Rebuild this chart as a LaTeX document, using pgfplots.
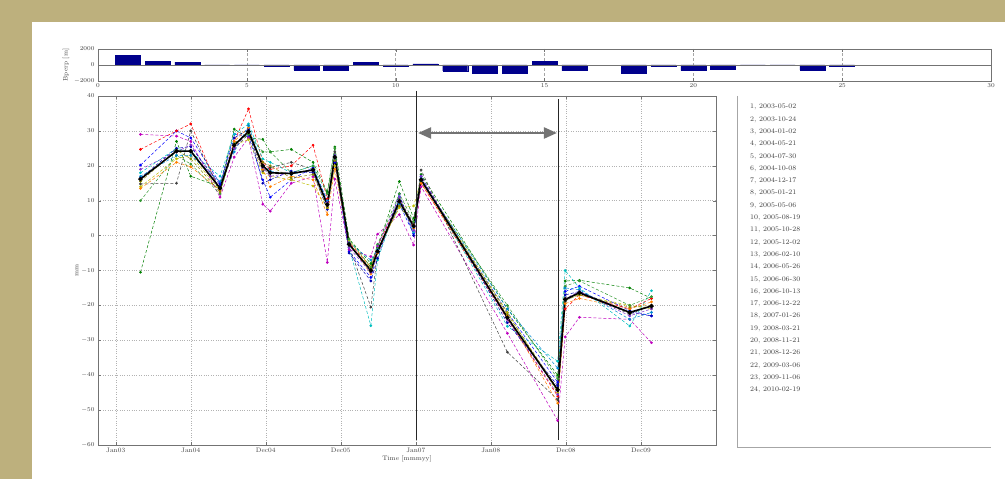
\documentclass[border=0pt]{standalone}
\usepackage{pgfplots}
\usepackage{pgfplotstable}
\pgfplotsset{compat=1.18}
\usetikzlibrary{arrows.meta}

\definecolor{slidebg}{RGB}{189,176,125}
\definecolor{navybar}{RGB}{0,0,140}
\definecolor{mb}{rgb}{0,0,1}
\definecolor{mg}{rgb}{0,0.5,0}
\definecolor{mr}{rgb}{1,0,0}
\definecolor{mc}{rgb}{0,0.75,0.75}
\definecolor{mm}{rgb}{0.75,0,0.75}
\definecolor{my}{rgb}{0.75,0.75,0}
\definecolor{mk}{rgb}{0.25,0.25,0.25}
\definecolor{mo}{rgb}{1,0.5,0}
\definecolor{mp}{rgb}{0.5,0.2,0.8}

% Bperp per interferogram
\pgfplotstableread{
n bperp
1 1200
2 420
3 350
4 -50
5 -50
6 -150
7 -600
8 -650
9 350
10 -100
11 150
12 -720
13 -1000
14 -1000
15 450
16 -700
18 -1000
19 -150
20 -700
21 -500
22 -50
23 -50
24 -600
25 -100
}\bperp

% displacement time series [mm]
\pgfplotstableread{
date s1 s2 s3 s4 s5 s6 s7 s8 s9 s10 s11 s12 s13 mean
2003.33 20.2 -10.5 24.7 18.0 29.0 14.0 14.8 16.5 10.0 13.5 17.0 19.0 15.5 16.2
2003.81 30.0 27.0 30.0 25.0 28.5 22.0 15.0 25.0 23.0 21.0 23.0 24.0 24.5 24.2
2004.00 28.0 17.0 32.0 24.0 27.0 23.0 30.0 25.5 20.5 19.7 23.0 26.0 22.0 24.2
2004.39 15.0 14.0 12.5 17.0 11.0 13.0 13.0 14.5 12.0 13.0 15.5 13.5 12.5 13.6
2004.58 29.0 30.5 27.0 29.0 22.5 26.0 25.0 28.0 26.5 27.0 24.0 25.0 26.0 25.9
2004.77 28.5 28.0 36.3 32.0 28.0 27.5 29.0 30.5 29.0 31.0 31.5 30.0 29.5 29.8
2004.96 16.0 27.6 21.0 22.0 9.0 18.0 18.5 15.0 24.0 19.0 20.0 19.5 21.0 20.0
2005.06 11.0 24.0 19.0 21.0 7.0 17.0 19.5 16.0 24.0 14.0 18.5 17.0 20.0 18.0
2005.34 16.0 24.7 20.0 18.0 15.0 16.0 21.0 18.5 18.0 17.0 17.5 18.0 16.5 17.8
2005.63 19.5 21.0 25.9 20.0 16.9 14.2 19.0 18.0 20.0 16.0 19.0 18.5 17.5 18.8
2005.82 10.0 12.5 10.5 9.0 -7.7 8.0 8.5 7.5 12.0 6.0 10.0 9.5 8.0 8.9
2005.92 21.0 25.4 22.0 23.0 16.2 20.0 24.0 21.5 25.0 19.0 22.0 23.0 21.5 22.5
2006.11 -4.5 -1.0 -2.0 -3.5 -4.0 -1.5 -3.0 -5.0 -1.0 -2.0 -2.0 -3.5 -2.5 -2.5
2006.40 -12.0 -8.0 -9.0 -25.8 -6.0 -9.0 -20.5 -13.0 -9.0 -11.0 -7.0 -10.5 -9.5 -10.0
2006.49 -5.0 -3.5 -3.0 -7.0 0.4 -4.0 -5.0 -6.5 -2.5 -5.0 -4.0 -3.0 -4.5 -4.5
2006.78 9.0 15.5 10.0 11.0 6.0 8.0 10.5 12.0 12.0 9.5 9.0 11.0 8.5 9.8
2006.97 0.5 5.0 3.0 1.0 -2.7 8.5 3.5 0.0 4.0 2.0 2.5 1.5 3.0 2.7
2007.07 15.5 17.5 15.0 16.5 14.0 16.0 18.8 17.0 15.5 15.0 16.0 17.0 16.0 16.0
2008.22 -22.0 -21.0 -24.0 -26.0 -28.0 -22.0 -33.4 -25.0 -20.0 -23.0 -21.0 -24.0 -22.5 -23.5
2008.89 -42.0 -40.0 -46.0 -36.0 -53.0 -45.0 -47.0 -43.0 -41.0 -48.0 -38.0 -45.5 -44.0 -44.2
2008.99 -16.0 -13.0 -21.0 -10.0 -29.0 -18.0 -19.0 -17.0 -14.5 -19.5 -15.0 -18.0 -18.5 -18.3
2009.18 -14.5 -12.8 -17.0 -15.0 -23.4 -17.0 -16.0 -16.0 -13.0 -18.0 -15.5 -16.0 -17.0 -16.4
2009.85 -21.5 -15.0 -21.0 -25.9 -24.0 -20.0 -22.5 -22.0 -20.0 -21.0 -24.0 -23.0 -20.5 -22.0
2010.14 -23.0 -18.0 -18.0 -15.8 -30.7 -21.0 -20.0 -23.0 -17.5 -19.0 -22.0 -21.0 -20.0 -20.2
}\ts

\pgfplotsset{
  matlab/.style={
    scale only axis, anchor=south west,
    axis line style={black!55},
    tick align=inside,
    major tick length=3pt,
    tick style={black!55},
    grid=major,
    major grid style={dotted, black!30},
    tick label style={font=\fontsize{6.5}{7.5}\selectfont, text=black!75},
    label style={font=\fontsize{6.5}{7.5}\selectfont, text=black!75},
    /pgf/number format/1000 sep={},
  },
  ser/.style={#1, densely dashed, line width=0.5pt, mark=*, mark size=1.1pt,
    mark options={solid}},
}

\begin{document}
\begin{tikzpicture}
\fill[slidebg] (0pt,0pt) rectangle (1005pt,479pt);
\fill[white] (32pt,0pt) rectangle (1005pt,457pt);

% Bperp bars
\begin{axis}[matlab,
  at={(98pt,398pt)}, width=893pt, height=32pt,
  xmin=0, xmax=30, ymin=-2000, ymax=2000,
  xtick={0,5,...,30}, ytick={-2000,0,2000},
  xmajorgrids=true, ymajorgrids=false,
  major grid style={densely dashed, black!35},
  ylabel={Bperp [m]}, ylabel style={yshift=-2pt},
  xticklabel style={yshift=1pt},
]
\addplot[ybar, bar width=25pt, fill=navybar, draw=navybar] table[x=n, y=bperp] {\bperp};
\draw[black!55, line width=0.5pt] (axis cs:0,0) -- (axis cs:30,0);
\end{axis}

% displacement
\begin{axis}[matlab,
  at={(98pt,34pt)}, width=618pt, height=349pt,
  xmin=2002.764, xmax=2011.0, ymin=-60, ymax=40,
  xtick={2003,...,2010},
  xticklabels={Jan03,Jan04,Dec04,Dec05,Jan07,Jan08,Dec08,Dec09},
  ytick={-60,-50,...,40},
  xlabel={Time [mmmyy]}, ylabel={mm},
  xlabel style={yshift=4pt}, ylabel style={yshift=-4pt},
  clip=false,
]
\addplot[ser=mb] table[x=date, y=s1] {\ts};
\addplot[ser=mg] table[x=date, y=s2] {\ts};
\addplot[ser=mr] table[x=date, y=s3] {\ts};
\addplot[ser=mc] table[x=date, y=s4] {\ts};
\addplot[ser=mm] table[x=date, y=s5] {\ts};
\addplot[ser=my] table[x=date, y=s6] {\ts};
\addplot[ser=mk] table[x=date, y=s7] {\ts};
\addplot[ser=mb!70!black] table[x=date, y=s8] {\ts};
\addplot[ser=mg!80!white] table[x=date, y=s9] {\ts};
\addplot[ser=mo] table[x=date, y=s10] {\ts};
\addplot[ser=mc!70!blue] table[x=date, y=s11] {\ts};
\addplot[ser=mp] table[x=date, y=s12] {\ts};
\addplot[ser=my!70!black] table[x=date, y=s13] {\ts};
\addplot[black, line width=1.6pt, mark=*, mark size=1.3pt] table[x=date, y=mean] {\ts};

\draw[black!85, line width=1.4pt] (axis cs:2007.01,41.5) -- (axis cs:2007.01,-58.5);
\draw[black!85, line width=1.4pt] (axis cs:2008.90,39.0) -- (axis cs:2008.90,-58.5);
\draw[black!55, line width=2.2pt,
  {Triangle[length=13pt,width=11pt]}-{Triangle[length=13pt,width=11pt]}]
  (axis cs:2007.03,29.4) -- (axis cs:2008.88,29.4);
\end{axis}

% list of acquisition dates
\draw[black!35, line width=0.8pt] (737pt,383pt) -- (737pt,32pt) -- (991pt,32pt);
\node[anchor=north west, align=left, text=black!75, inner sep=0pt,
  font=\fontsize{7}{12.3}\selectfont] at (750pt,375pt) {%
1, 2003-05-02\\ 2, 2003-10-24\\ 3, 2004-01-02\\ 4, 2004-05-21\\
5, 2004-07-30\\ 6, 2004-10-08\\ 7, 2004-12-17\\ 8, 2005-01-21\\
9, 2005-05-06\\ 10, 2005-08-19\\ 11, 2005-10-28\\ 12, 2005-12-02\\
13, 2006-02-10\\ 14, 2006-05-26\\ 15, 2006-06-30\\ 16, 2006-10-13\\
17, 2006-12-22\\ 18, 2007-01-26\\ 19, 2008-03-21\\ 20, 2008-11-21\\
21, 2008-12-26\\ 22, 2009-03-06\\ 23, 2009-11-06\\ 24, 2010-02-19};

\pgfresetboundingbox
\path[use as bounding box] (0pt,0pt) rectangle (1005pt,479pt);
\end{tikzpicture}
\end{document}
